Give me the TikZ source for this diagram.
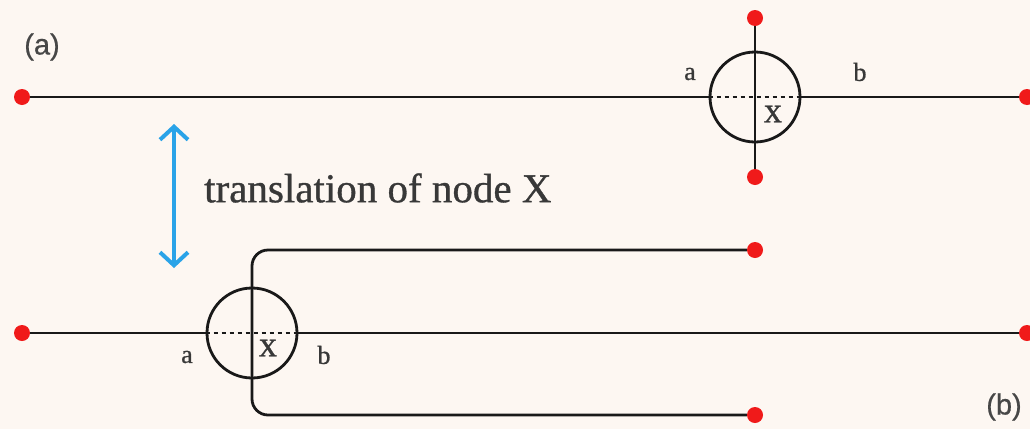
\documentclass[tikz,border=0pt]{standalone}
\usepackage{fontspec}
\setmainfont[FakeBold=0.8]{Liberation Serif}
\newfontfamily\labsans[FakeBold=0.6]{Liberation Sans}
\usetikzlibrary{arrows.meta}
\definecolor{bg}{RGB}{253,247,242}
\definecolor{dotred}{RGB}{240,26,26}
\definecolor{arrblue}{RGB}{42,163,232}
\tikzset{
  dotnode/.style={circle,fill=dotred,inner sep=0pt,minimum size=16pt},
  ring/.style={circle,draw=black!90,line width=2.8pt,minimum size=90pt,inner sep=0pt},
  wire/.style={draw=black!90,line width=2.8pt},
  dotted line/.style={draw=black!90,line width=2.4pt,dash pattern=on 4pt off 4pt},
  lab/.style={font=\fontsize{26}{28}\selectfont,text=black!78,inner sep=0pt},
  xlab/.style={font=\fontsize{36}{38}\selectfont,text=black!78,inner sep=0pt},
  panel/.style={font=\labsans\fontsize{29}{31}\selectfont,text=black!72,inner sep=0pt},
  transl/.style={font=\fontsize{41}{43}\selectfont,text=black!78,inner sep=0pt,anchor=west},
  blue arrow/.style={draw=arrblue,line width=4pt,{Straight Barb[length=13pt,width=28pt]}-{Straight Barb[length=13pt,width=28pt]}}
}
\begin{document}
\begin{tikzpicture}[x=1pt,y=-1pt]
\useasboundingbox (0,0) rectangle (1030,429);
\fill[bg] (0,0) rectangle (1030,429);

% panel labels
\node[panel] (pa) at (42,47) {(a)};
\node[panel] (pb) at (1004,407) {(b)};

% ---- top configuration ----
\node[ring] (C1) at (755,97) {};
\node[dotnode] (L1) at (22,97) {};
\node[dotnode] (R1) at (1027,97) {};
\node[dotnode] (T1) at (755,18) {};
\node[dotnode] (B1) at (755,177) {};
\draw[wire] (L1) -- (C1.west);
\draw[wire] (C1.east) -- (R1);
\draw[wire] (T1) -- (B1);
\draw[dotted line] (C1.west) -- (C1.east);
\node[lab] (a1) at (690,74) {a};
\node[lab] (b1) at (860,72) {b};
\node[xlab] (x1) at (773,114) {x};

% ---- translation arrow ----
\coordinate (arrtop) at (174,124);
\coordinate (arrbot) at (174,268);
\draw[blue arrow] (arrtop) -- (arrbot);
\node[transl] (tx) at (204,188) {translation of node X};

% ---- bottom configuration ----
\node[ring] (C2) at (252,333) {};
\node[dotnode] (L2) at (22,333) {};
\node[dotnode] (R2) at (1027,333) {};
\node[dotnode] (U2) at (755,250) {};
\node[dotnode] (D2) at (755,415) {};
\coordinate (cornU) at (252,250);
\coordinate (cornD) at (252,415);
\draw[wire] (L2) -- (C2.west);
\draw[wire] (C2.east) -- (R2);
\draw[wire,rounded corners=16pt] (U2) -- (cornU) -- (cornD) -- (D2);
\draw[dotted line] (C2.west) -- (C2.east);
\node[lab] (a2) at (187,357) {a};
\node[lab] (b2) at (324,355) {b};
\node[xlab] (x2) at (268,348) {x};
\end{tikzpicture}
\end{document}
